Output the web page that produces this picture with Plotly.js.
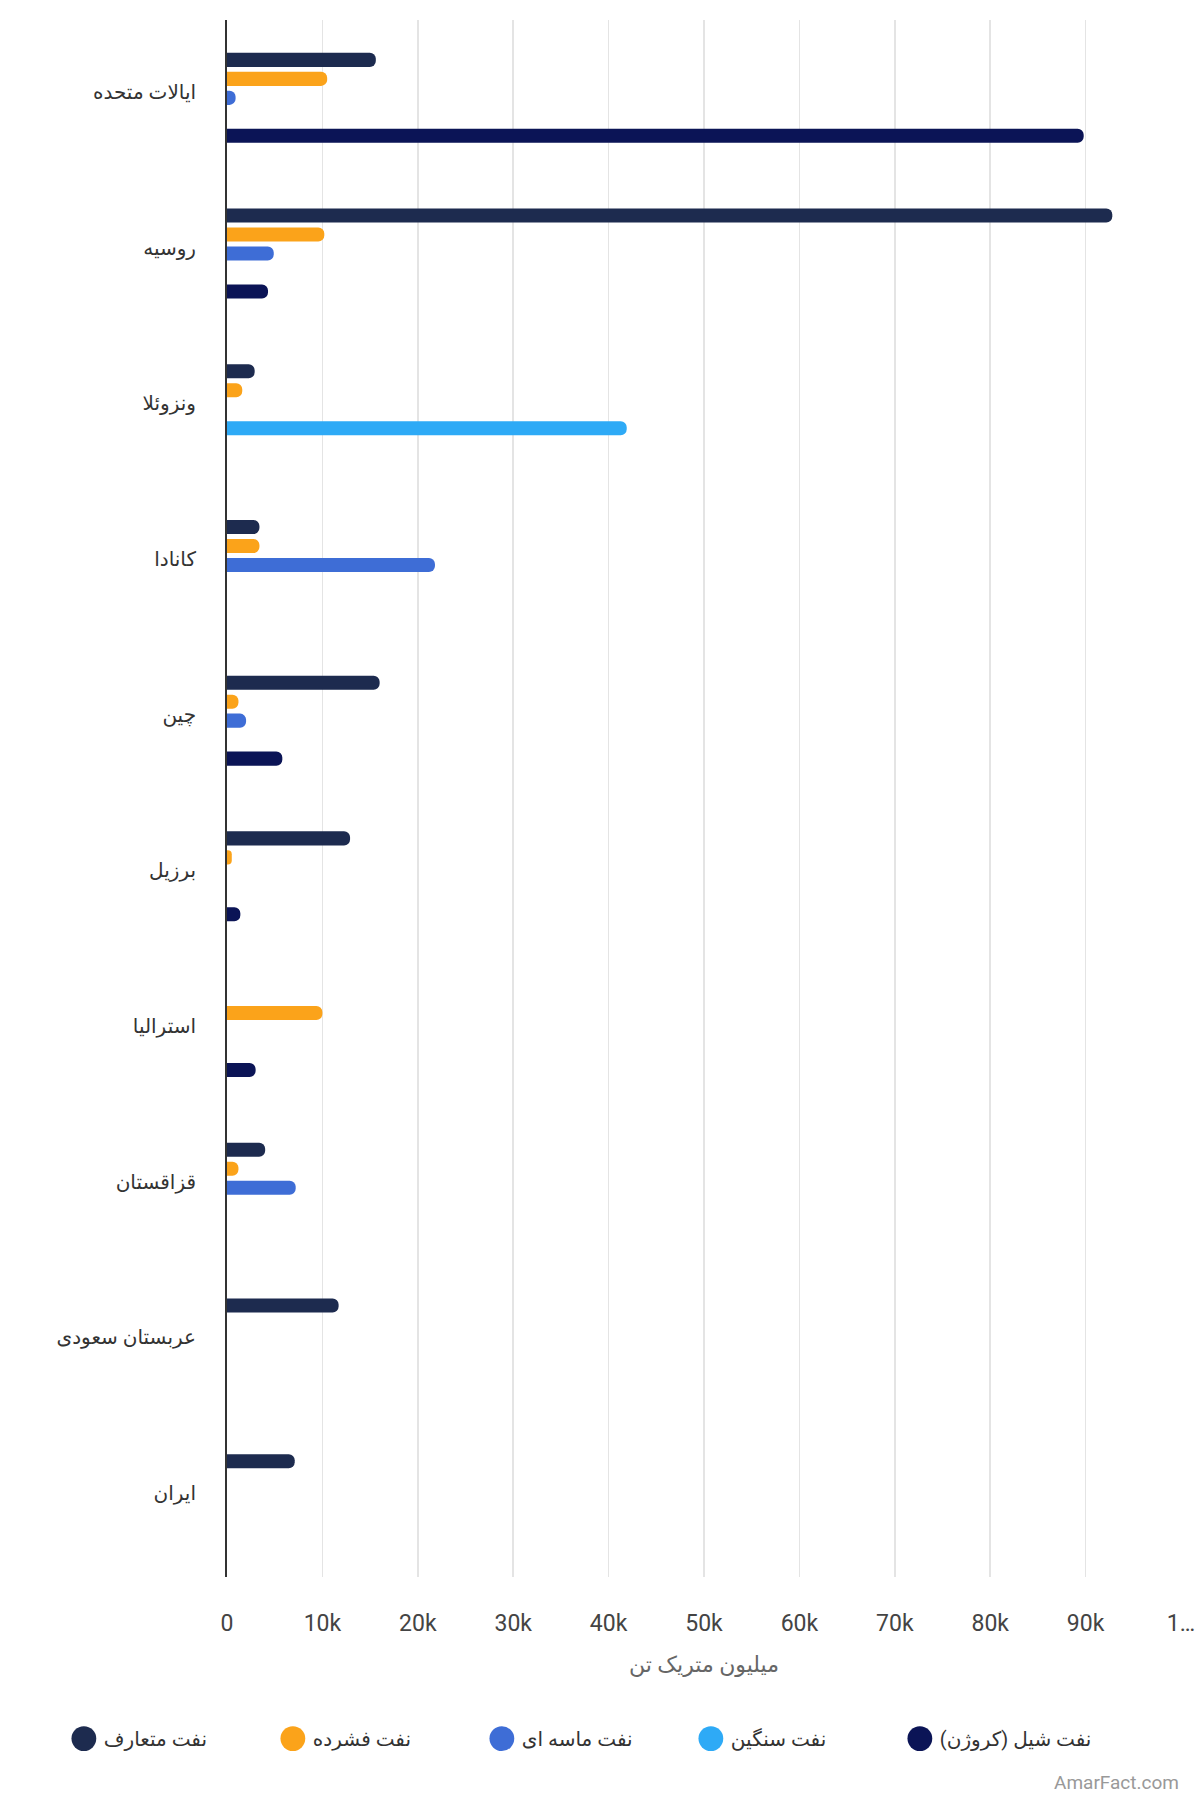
<!DOCTYPE html>
<html>
<head>
<meta charset="utf-8">
<script src="https://cdn.plot.ly/plotly-3.0.1.min.js"></script>
<style>
  body { margin: 0; background: #fff; }
  #plot { width: 1200px; height: 1800px; }
</style>
</head>
<body>
<div id="plot"></div>
<script>
const countries = ["ایالات متحده", "روسیه", "ونزوئلا", "کانادا", "چین", "برزیل", "استرالیا", "قزاقستان", "عربستان سعودی", "ایران"];

const seriesNames = ["نفت متعارف", "نفت فشرده", "نفت ماسه ای", "نفت سنگین", "نفت شیل (کروژن)"];
const seriesColors = ["#1d2b4f", "#fba31a", "#3e6dd6", "#2eaaf6", "#0b1456"];

// million metric tons
const conventional = [15600, 92800, 2900, 3400, 16000, 12900, null, 4000, 11700, 7100];
const tight = [10500, 10200, 1600, 3400, 1200, 500, 10000, 1200, null, null];
const sands = [900, 4900, null, 21800, 2000, null, null, 7200, null, null];
const heavy = [null, null, 41900, null, null, null, null, null, null, null];
const shale = [89800, 4300, null, null, 5800, 1400, 3000, null, null, null];

const tickVals = [0, 10000, 20000, 30000, 40000, 50000, 60000, 70000, 80000, 90000, 100000];
const tickText = ["0", "10k", "20k", "30k", "40k", "50k", "60k", "70k", "80k", "90k", "1…"];

const font = "Roboto, 'DejaVu Sans', sans-serif";
const seriesValues = [conventional, tight, sands, heavy, shale];

const bars = seriesValues.map((vals, i) => ({
    type: "bar",
    orientation: "h",
    name: seriesNames[i],
    y: countries,
    x: vals,
    marker: { color: seriesColors[i], cornerradius: 6 },
    showlegend: false,
    hoverinfo: "x+name"
}));

// round legend markers, the bar ones would be squares
const legendItems = seriesNames.map((name, i) => ({
    type: "scatter",
    mode: "markers",
    name: name,
    x: [null],
    y: [null],
    marker: { color: seriesColors[i], size: 16, symbol: "circle" },
    showlegend: true
}));

Plotly.newPlot("plot", [...bars, ...legendItems], {
    width: 1200,
    height: 1800,
    margin: { l: 227, r: 19, t: 20, b: 223 },
    paper_bgcolor: "#fff",
    plot_bgcolor: "#fff",
    font: { family: font, color: "#333" },
    barmode: "group",
    bargap: 0.39,
    bargroupgap: 0.26,
    xaxis: {
        range: [0, 100000],
        tickvals: tickVals,
        ticktext: tickText,
        showgrid: true,
        gridcolor: "#e4e4e4",
        gridwidth: 1.5,
        zeroline: false,
        showline: false,
        ticks: "",
        ticklabelstandoff: 30,
        tickfont: { size: 23, color: "#444" },
        title: { text: "میلیون متریک تن", font: { size: 22, color: "#666" }, standoff: 20 }
    },
    yaxis: {
        type: "category",
        autorange: "reversed",
        showgrid: false,
        zeroline: false,
        showline: true,
        linecolor: "#333",
        linewidth: 2,
        ticks: "",
        ticklabelstandoff: 25,
        ticklabelshift: 6,
        tickfont: { size: 20, color: "#333" }
    },
    legend: {
        orientation: "h",
        xref: "paper",
        yref: "paper",
        x: -0.171,
        xanchor: "left",
        y: -0.1038,
        yanchor: "middle",
        entrywidth: 164,
        font: { size: 20, color: "#333" }
    },
    annotations: [{
        text: "AmarFact.com",
        xref: "paper",
        yref: "paper",
        x: 1,
        xanchor: "right",
        y: -0.132,
        yanchor: "middle",
        showarrow: false,
        font: { size: 19, color: "#999" }
    }]
}, { staticPlot: true }).then(() => {
    // make the legend circles as big as in the picture
    document.querySelectorAll(".legend .legendpoints path").forEach(p => {
        const t = p.getAttribute("transform") || "";
        p.setAttribute("transform", t + " scale(1.55)");
    });
});
</script>
</body>
</html>
